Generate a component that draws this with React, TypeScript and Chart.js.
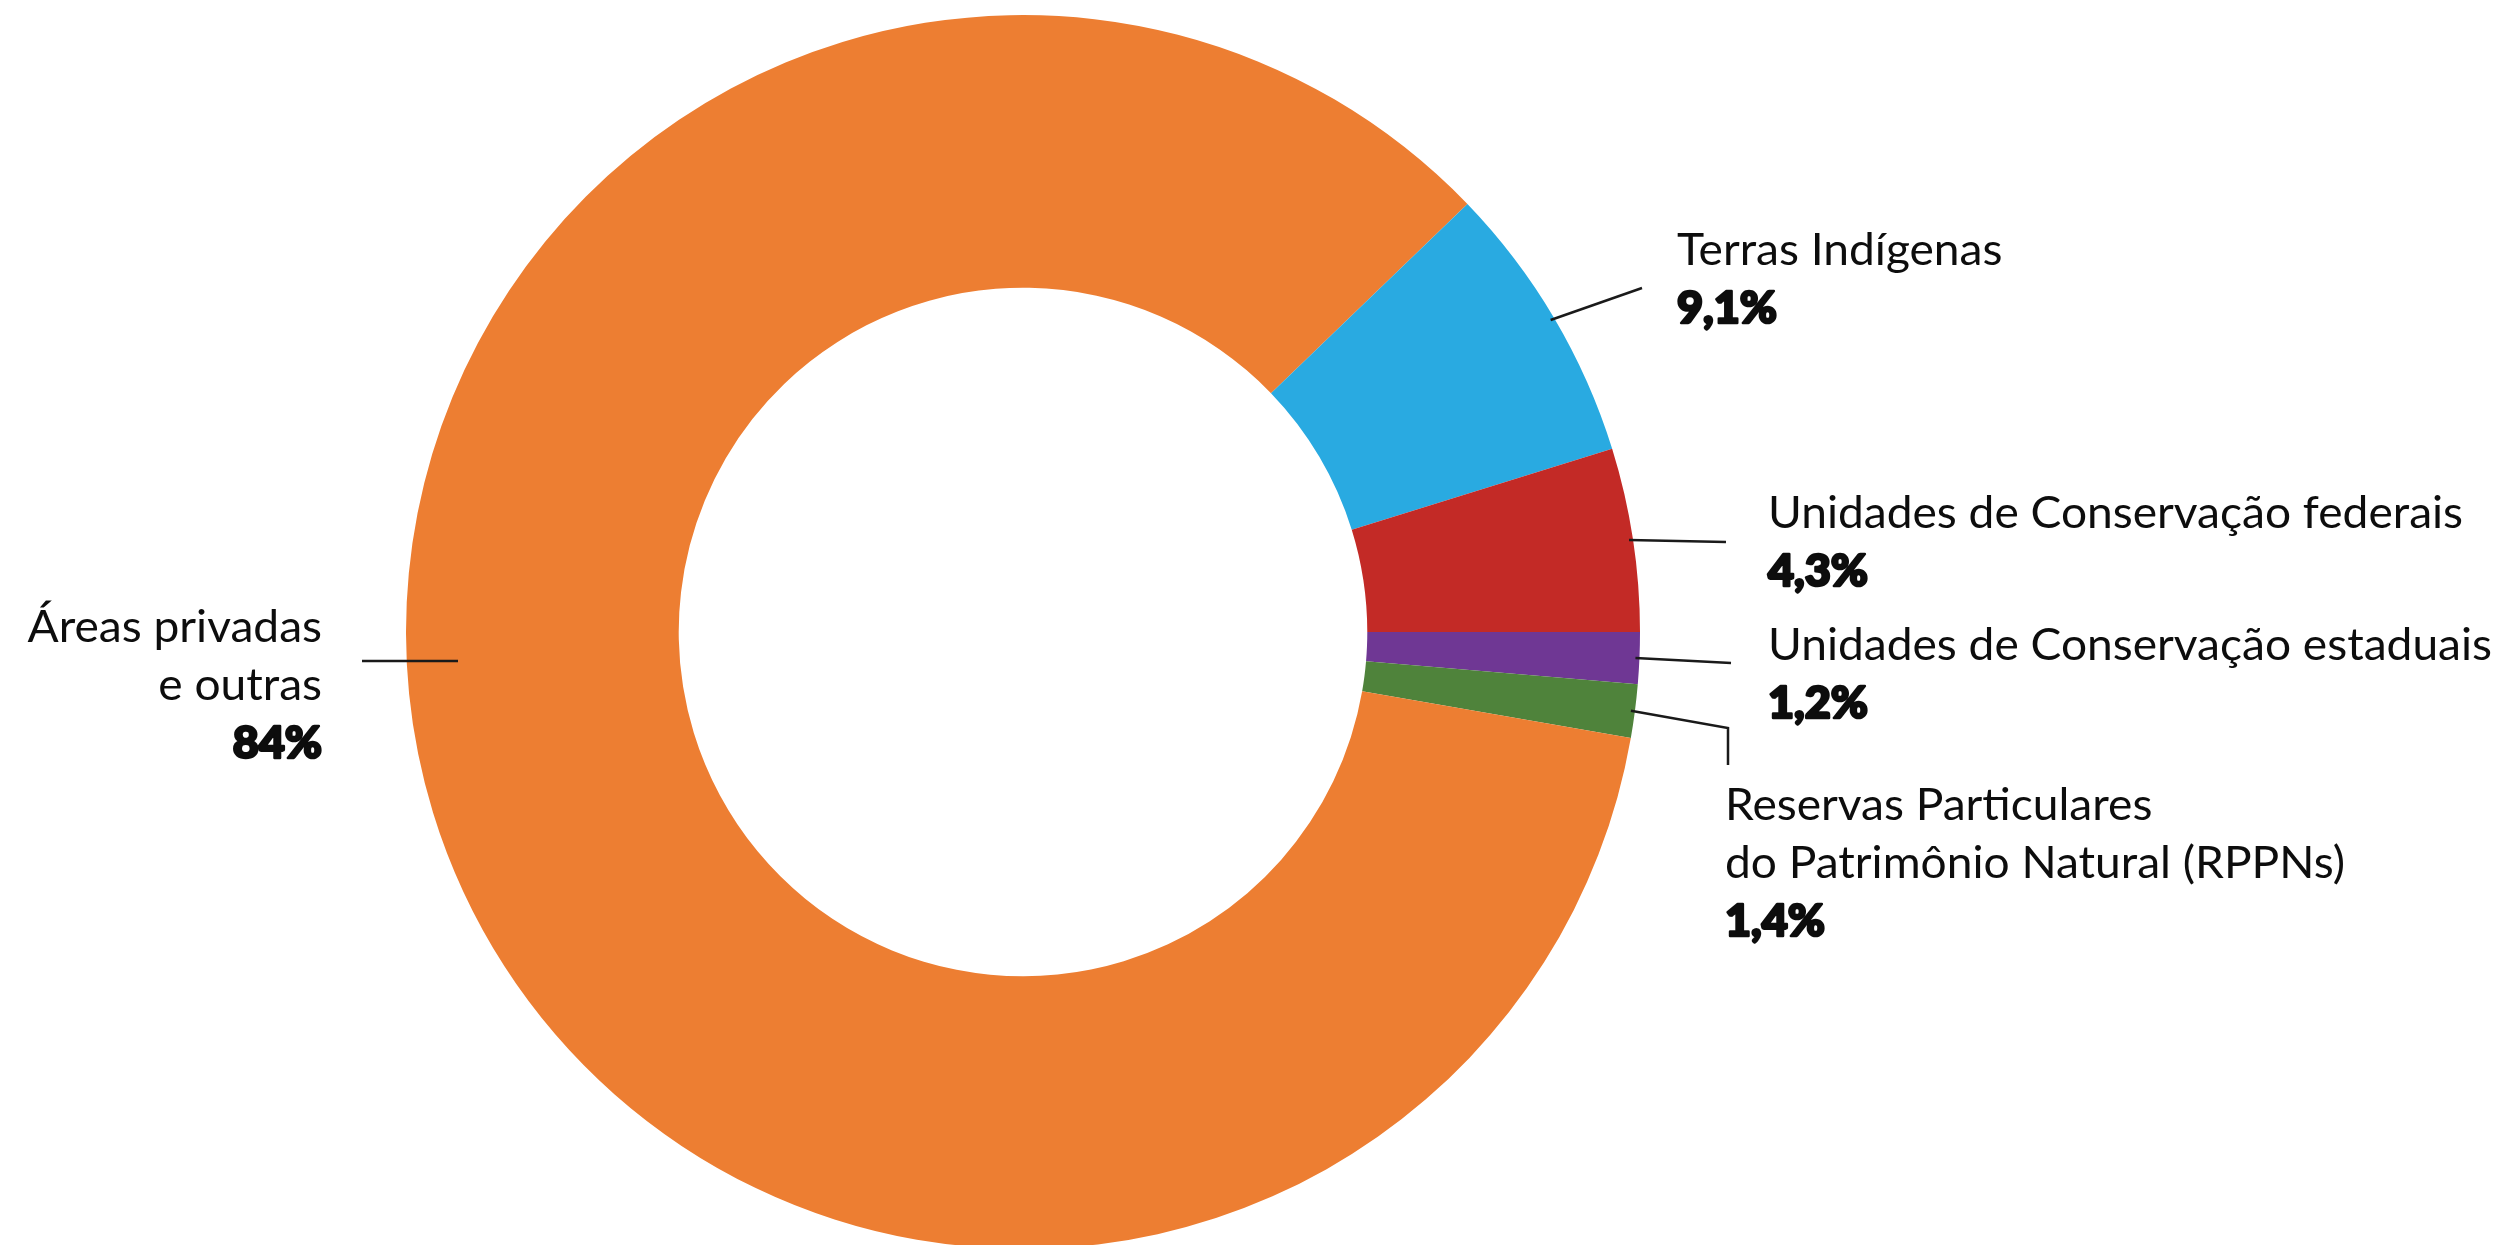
import React, { useEffect, useRef } from "react";
import { Chart, registerables } from "chart.js";

Chart.register(...registerables);

// ---- data (clockwise from 3 o'clock) ----
const categories = [
  "Unidades de Conservação estaduais",
  "Reservas Particulares do Patrimônio Natural (RPPNs)",
  "Áreas privadas e outras",
  "Terras Indígenas",
  "Unidades de Conservação federais",
];
const labelLines = [
  ["Unidades de Conservação estaduais"],
  ["Reservas Particulares", "do Patrimônio Natural (RPPNs)"],
  ["Áreas privadas", "e outras"],
  ["Terras Indígenas"],
  ["Unidades de Conservação federais"],
];
const percentLabels = ["1,2%", "1,4%", "84%", "9,1%", "4,3%"];
// slice sizes as drawn in the picture (share of the ring, %)
const shares = [1.35, 1.4, 85.05, 7.4, 4.8];
const colors = ["#6F3794", "#4F833B", "#ED7E32", "#29AAE1", "#C32A26"];

// ---- label layout (annotation positions, px) ----
type Layout = {
  x: number;
  y: number;
  align: CanvasTextAlign;
  start: "mid" | [number, number];
  path: [number, number][];
};
const layout: Layout[] = [
  { x: 1768, y: 660, align: "left", start: "mid", path: [[1731, 663]] },
  { x: 1725, y: 820, align: "left", start: "mid", path: [[1728, 728], [1728, 765]] },
  { x: 322, y: 642, align: "right", start: [458, 661], path: [[362, 661]] },
  { x: 1677, y: 265, align: "left", start: "mid", path: [[1642, 288]] },
  { x: 1768, y: 528, align: "left", start: "mid", path: [[1726, 542]] },
];
const LINE_H = 58;
const FONT = "Lato, 'Open Sans', 'Noto Sans', sans-serif";
const FS = 44;

const labelPlugin = {
  id: "leaderLabels",
  afterDraw(chart: any) {
    const ctx: CanvasRenderingContext2D = chart.ctx;
    const meta = chart.getDatasetMeta(0);
    ctx.save();
    ctx.font = `400 ${FS}px ${FONT}`;
    const refW = ctx.measureText("Unidades de Conservação estaduais").width;
    const sx = Math.min(1.25, Math.max(0.75, 724 / refW));
    ctx.font = `900 ${FS}px ${FONT}`;
    const refB = ctx.measureText("4,3%").width;
    const sxb = Math.min(1.25, Math.max(0.75, 100 / refB));

    layout.forEach((L, i) => {
      const arc = meta.data[i];
      let sxp: number, syp: number;
      if (L.start === "mid") {
        const a = (arc.startAngle + arc.endAngle) / 2;
        const r = arc.outerRadius - 4;
        sxp = arc.x + Math.cos(a) * r;
        syp = arc.y + Math.sin(a) * r;
      } else {
        [sxp, syp] = L.start;
      }
      ctx.strokeStyle = "#1a1a1a";
      ctx.lineWidth = 2.5;
      ctx.beginPath();
      ctx.moveTo(sxp, syp);
      L.path.forEach(([px, py]) => ctx.lineTo(px, py));
      ctx.stroke();

      ctx.fillStyle = "#0d0d0d";
      ctx.textAlign = L.align;
      ctx.textBaseline = "alphabetic";
      const lines = labelLines[i];
      lines.forEach((t, k) => {
        ctx.save();
        ctx.translate(L.x, L.y + k * LINE_H);
        ctx.scale(sx, 1);
        ctx.font = `400 ${FS}px ${FONT}`;
        ctx.fillText(t, 0, 0);
        ctx.restore();
      });
      ctx.save();
      ctx.translate(L.x, L.y + lines.length * LINE_H);
      ctx.scale(sxb, 1);
      ctx.font = `900 ${FS}px ${FONT}`;
      ctx.strokeStyle = "#0d0d0d";
      ctx.lineWidth = 2.6;
      ctx.lineJoin = "round";
      ctx.strokeText(percentLabels[i], 0, 0);
      ctx.fillText(percentLabels[i], 0, 0);
      ctx.restore();
    });
    ctx.restore();
  },
};

export default function App() {
  const ref = useRef<HTMLCanvasElement | null>(null);
  useEffect(() => {
    document.body.style.margin = "0";
    const canvas = ref.current!;
    const chart = new Chart(canvas, {
      type: "doughnut",
      data: {
        labels: categories,
        datasets: [
          {
            data: shares,
            backgroundColor: colors,
            borderWidth: 0,
            hoverOffset: 0,
            offset: 0,
          },
        ],
      },
      options: {
        animation: false,
        responsive: false,
        devicePixelRatio: 1,
        rotation: 90,
        cutout: "55.8%",
        layout: { padding: { left: 406, right: 859, top: 15, bottom: 15 } },
        plugins: {
          legend: { display: false },
          tooltip: { enabled: false },
        },
        events: [],
      },
      plugins: [labelPlugin],
    });
    const fonts = (document as any).fonts;
    if (fonts && fonts.load) {
      Promise.all([
        fonts.load(`400 ${FS}px Lato`),
        fonts.load(`900 ${FS}px Lato`),
      ]).then(() => chart.update()).catch(() => {});
    }
    return () => chart.destroy();
  }, []);
  return (
    <div style={{ position: "fixed", left: 0, top: 0, width: 2499, height: 1264, background: "#fff" }}>
      <canvas ref={ref} width={2499} height={1264} style={{ width: 2499, height: 1264, display: "block" }} />
    </div>
  );
}
